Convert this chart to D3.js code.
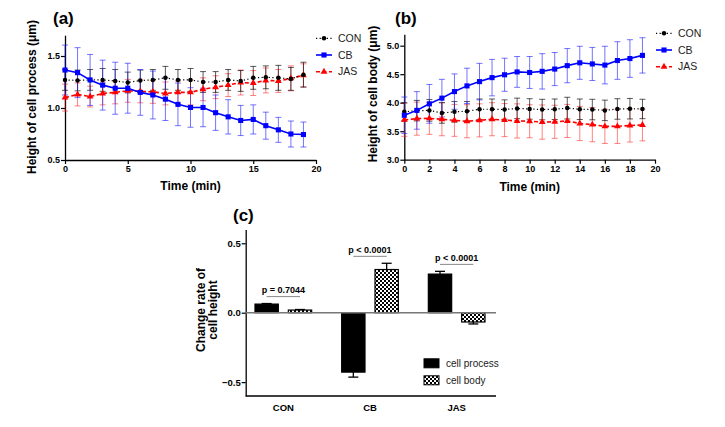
<!DOCTYPE html>
<html><head><meta charset="utf-8">
<script src="https://cdn.jsdelivr.net/npm/d3@7"></script>
<style>
body{margin:0;background:#fff;}
text{font-family:"Liberation Sans",Arial,sans-serif;}
</style></head>
<body><svg id="chart" width="725" height="427"></svg>
<script>
// ---------- DATA ----------
const time = [0,1,2,3,4,5,6,7,8,9,10,11,12,13,14,15,16,17,18,19];
const seriesNames = ["CON","CB","JAS"];

// (a) Height of cell process (µm)
const aCON    = [1.27,1.265,1.27,1.27,1.26,1.245,1.265,1.27,1.29,1.27,1.27,1.25,1.25,1.27,1.26,1.29,1.295,1.29,1.28,1.32];
const aCONerr = [0.10,0.10,0.10,0.11,0.11,0.10,0.10,0.10,0.11,0.10,0.11,0.10,0.10,0.10,0.10,0.11,0.11,0.12,0.11,0.12];
const aCB     = [1.365,1.34,1.27,1.22,1.19,1.19,1.15,1.125,1.085,1.035,1.005,1.005,0.955,0.915,0.88,0.89,0.83,0.79,0.75,0.745];
const aCBerr  = [0.24,0.24,0.245,0.24,0.25,0.24,0.22,0.23,0.205,0.205,0.19,0.185,0.17,0.165,0.145,0.14,0.13,0.12,0.125,0.12];
const aJAS    = [1.10,1.13,1.11,1.14,1.15,1.165,1.16,1.155,1.14,1.15,1.15,1.18,1.20,1.22,1.245,1.24,1.265,1.26,1.285,1.315];
const aJASerr = [0.13,0.11,0.10,0.11,0.11,0.11,0.11,0.11,0.11,0.11,0.12,0.11,0.11,0.11,0.12,0.12,0.12,0.11,0.12,0.11];

// (b) Height of cell body (µm)
const bCON    = [3.84,3.86,3.865,3.82,3.84,3.85,3.885,3.885,3.88,3.90,3.89,3.88,3.885,3.905,3.885,3.88,3.865,3.89,3.895,3.89];
const bCONerr = [0.16,0.18,0.19,0.18,0.18,0.17,0.18,0.18,0.17,0.18,0.18,0.18,0.18,0.19,0.18,0.18,0.18,0.18,0.18,0.17];
const bCB     = [3.78,3.865,3.98,4.08,4.195,4.295,4.37,4.44,4.49,4.54,4.53,4.55,4.59,4.65,4.70,4.68,4.66,4.74,4.775,4.83];
const bCBerr  = [0.32,0.33,0.34,0.33,0.31,0.31,0.32,0.32,0.29,0.27,0.28,0.31,0.29,0.30,0.29,0.29,0.33,0.33,0.33,0.31];
const bJAS    = [3.70,3.72,3.725,3.71,3.69,3.675,3.69,3.71,3.695,3.68,3.675,3.66,3.665,3.68,3.635,3.615,3.585,3.585,3.60,3.61];
const bJASerr = [0.29,0.29,0.28,0.29,0.28,0.29,0.29,0.29,0.29,0.30,0.29,0.30,0.29,0.29,0.30,0.30,0.30,0.30,0.29,0.28];

// (c) Change rate of cell height
const groups = ["CON","CB","JAS"];
const barSeries = ["cell process","cell body"];
const cellProcess    = [0.062,-0.428,0.278];
const cellProcessErr = [0.004,0.036,0.020];
const cellBody       = [0.019,0.311,-0.067];
const cellBodyErr    = [0.004,0.045,0.014];
const pLabels = ["p = 0.7044","p < 0.0001","p < 0.0001"];

const aTicksY = [0.5,1.0,1.5];
const aTicksX = [0,5,10,15,20];
const bTicksY = [3.0,3.5,4.0,4.5,5.0];
const bTicksX = [0,2,4,6,8,10,12,14,16,18,20];
const cTicksY = [-0.5,0.0,0.5];

// ---------- STYLES ----------
const styles = {
  CON:{color:"#000000", err:"rgba(0,0,0,0.65)", dash:"1.2,2.4", width:1.2, marker:"circle"},
  CB: {color:"#0000ff", err:"rgba(30,30,255,0.62)", dash:null, width:1.6, marker:"square"},
  JAS:{color:"#ff0000", err:"rgba(255,30,30,0.55)", dash:"4,2.5", width:1.6, marker:"triangle"}
};
const svg = d3.select("#chart");
const font = '"Liberation Sans",Arial,sans-serif';

// pattern for checkered bars
const defs = svg.append("defs");
const pat = defs.append("pattern").attr("id","checker").attr("patternUnits","userSpaceOnUse")
  .attr("width",4).attr("height",4);
pat.append("rect").attr("width",4).attr("height",4).attr("fill","#fff");
pat.append("rect").attr("width",2).attr("height",2).attr("fill","#000");
pat.append("rect").attr("x",2).attr("y",2).attr("width",2).attr("height",2).attr("fill","#000");

function markerPath(type){
  if(type==="circle") return d3.symbol().type(d3.symbolCircle).size(16)();
  if(type==="square") return d3.symbol().type(d3.symbolSquare).size(26)();
  return d3.symbol().type(d3.symbolTriangle).size(20)();
}

function linePanel(opt){
  const g = svg.append("g");
  const x = d3.scaleLinear().domain([0,20]).range(opt.xr);
  const y = d3.scaleLinear().domain(opt.yd).range(opt.yr);
  const ay = g.append("g").attr("transform",`translate(${opt.xr[0]},0)`)
    .call(d3.axisLeft(y).tickValues(opt.ticksY).tickFormat(d3.format(".1f")).tickSize(4).tickSizeOuter(0));
  const ax = g.append("g").attr("transform",`translate(0,${opt.yr[0]})`)
    .call(d3.axisBottom(x).tickValues(opt.ticksX).tickFormat(d3.format("d")).tickSize(4).tickSizeOuter(0));
  [ax,ay].forEach(a=>{
    a.selectAll("path.domain").attr("stroke","#000").attr("stroke-width",1.3);
    a.selectAll(".tick line").attr("stroke","#000").attr("stroke-width",1.2);
    a.selectAll("text").attr("font-family",font).attr("font-size",9).attr("font-weight","bold").attr("fill","#000");
  });
  ay.selectAll("text").attr("x",-5);
  ax.selectAll("text").attr("y",6);
  const order = ["JAS","CON","CB"];
  order.forEach(s=>{
    const vals = opt.data[s], errs = opt.err[s], st = styles[s];
    const eg = g.append("g").attr("stroke",st.err).attr("stroke-width",1).attr("fill","none");
    time.forEach((t,i)=>{
      const cx = x(t);
      eg.append("line").attr("x1",cx).attr("x2",cx).attr("y1",y(vals[i]-errs[i])).attr("y2",y(vals[i]+errs[i]));
      eg.append("line").attr("x1",cx-3).attr("x2",cx+3).attr("y1",y(vals[i]+errs[i])).attr("y2",y(vals[i]+errs[i]));
      eg.append("line").attr("x1",cx-3).attr("x2",cx+3).attr("y1",y(vals[i]-errs[i])).attr("y2",y(vals[i]-errs[i]));
    });
  });
  order.forEach(s=>{
    const vals = opt.data[s], st = styles[s];
    const line = d3.line().x((d,i)=>x(time[i])).y(d=>y(d));
    g.append("path").datum(vals).attr("d",line).attr("fill","none")
      .attr("stroke",st.color).attr("stroke-width",st.width)
      .attr("stroke-dasharray",st.dash);
    g.selectAll(null).data(vals).enter().append("path")
      .attr("d",markerPath(st.marker))
      .attr("transform",(d,i)=>`translate(${x(time[i])},${y(d)})`)
      .attr("fill",st.color);
  });
  seriesNames.forEach((s,i)=>{
    const st = styles[s];
    const ly = opt.legY[i];
    g.append("line").attr("x1",opt.legX).attr("x2",opt.legX+16).attr("y1",ly).attr("y2",ly)
      .attr("stroke",st.color).attr("stroke-width",st.width).attr("stroke-dasharray",st.dash);
    g.append("path").attr("d",markerPath(st.marker)).attr("transform",`translate(${opt.legX+8},${ly})`).attr("fill",st.color);
    g.append("text").attr("x",opt.legX+22).attr("y",ly+3.6).text(s)
      .attr("font-size",10.5).attr("fill","#222");
  });
  g.append("text").attr("x",(opt.xr[0]+opt.xr[1])/2).attr("y",opt.xtY).attr("text-anchor","middle")
    .attr("font-size",12).attr("font-weight","bold").text("Time (min)");
  g.append("text").attr("transform",`translate(${opt.ytX},${opt.ytY}) rotate(-90)`).attr("text-anchor","middle")
    .attr("font-size",12).attr("font-weight","bold").text(opt.yTitle);
  g.append("text").attr("x",opt.lab[0]).attr("y",opt.lab[1]).attr("font-size",17).attr("font-weight","bold").text(opt.label);
}

linePanel({
  xr:[65,316], yd:[0.5,1.7], yr:[160,35.2], ticksY:aTicksY, ticksX:aTicksX,
  data:{CON:aCON,CB:aCB,JAS:aJAS}, err:{CON:aCONerr,CB:aCBerr,JAS:aJASerr},
  legX:316, legY:[38.3,55,71.7], xtY:189.5, ytX:36, ytY:97,
  yTitle:"Height of cell process (μm)", label:"(a)", lab:[53,24]
});
linePanel({
  xr:[404.3,655], yd:[3.0,5.2], yr:[159.7,34.3], ticksY:bTicksY, ticksX:bTicksX,
  data:{CON:bCON,CB:bCB,JAS:bJAS}, err:{CON:bCONerr,CB:bCBerr,JAS:bJASerr},
  legX:656, legY:[33.3,50,66.7], xtY:191, ytX:377, ytY:94,
  yTitle:"Height of cell body (μm)", label:"(b)", lab:[395,24]
});

// ---------- PANEL (c) ----------
(function(){
  const g = svg.append("g");
  const left = 245.7, right = 496;
  const y = d3.scaleLinear().domain([-0.6,0.6]).range([396,229.4]);
  const x0 = d3.scaleBand().domain(groups).range([240,500]).paddingInner(0).paddingOuter(0);
  const x1 = d3.scaleBand().domain(barSeries).range([15,x0.bandwidth()-15]).paddingInner(0.3);
  const ay = g.append("g").attr("transform",`translate(${left},0)`)
    .call(d3.axisLeft(y).tickValues(cTicksY).tickFormat(d3.format(".1f")).tickSize(4).tickSizeOuter(0));
  ay.selectAll("path.domain").attr("stroke","#000").attr("stroke-width",1.3);
  ay.selectAll(".tick line").attr("stroke","#000").attr("stroke-width",1.2);
  ay.selectAll("text").attr("font-family",font).attr("font-size",9.5).attr("font-weight","bold").attr("fill","#000").attr("x",-5);
  g.append("line").attr("x1",left).attr("x2",right).attr("y1",y(-0.6)).attr("y2",y(-0.6)).attr("stroke","#000").attr("stroke-width",1.3);
  const ax = g.append("g").attr("transform",`translate(0,${y(-0.6)})`)
    .call(d3.axisBottom(x0).tickSize(0));
  ax.select("path.domain").remove();
  ax.selectAll("text").attr("font-family",font).attr("font-size",9.5).attr("font-weight","bold").attr("fill","#000").attr("y",8);

  const rows = groups.map((gname,i)=>({g:gname,
    vals:[{s:"cell process",v:cellProcess[i],e:cellProcessErr[i]},{s:"cell body",v:cellBody[i],e:cellBodyErr[i]}]}));
  rows.forEach(r=>{
    r.vals.forEach(d=>{
      const bx = x0(r.g)+x1(d.s), bw = x1.bandwidth(), cx = bx+bw/2;
      const tipV = d.v>=0 ? d.v+d.e : d.v-d.e;
      g.append("line").attr("x1",cx).attr("x2",cx).attr("y1",y(d.v)).attr("y2",y(tipV)).attr("stroke","#000").attr("stroke-width",1.3);
      g.append("line").attr("x1",cx-5).attr("x2",cx+5).attr("y1",y(tipV)).attr("y2",y(tipV)).attr("stroke","#000").attr("stroke-width",1.3);
      g.append("rect").attr("x",bx).attr("width",bw)
        .attr("y",y(Math.max(0,d.v))).attr("height",Math.abs(y(d.v)-y(0)))
        .attr("fill",d.s==="cell process"?"#000":"url(#checker)")
        .attr("stroke","#000").attr("stroke-width",1.2);
    });
  });
  g.append("line").attr("x1",left).attr("x2",right).attr("y1",y(0)).attr("y2",y(0)).attr("stroke","#777").attr("stroke-width",1.5);
  rows.forEach((r,i)=>{
    const level = d3.max(r.vals,d=>d.v+d.e)+0.05;
    const xa = x0(r.g)+x1("cell process")+x1.bandwidth()/2;
    const xb = x0(r.g)+x1("cell body")+x1.bandwidth()/2;
    g.append("line").attr("x1",xa).attr("x2",xb).attr("y1",y(level)).attr("y2",y(level)).attr("stroke","#888").attr("stroke-width",1);
    g.append("text").attr("x",(xa+xb)/2).attr("y",y(level)-3.5).attr("text-anchor","middle")
      .attr("font-size",9).attr("font-weight","bold").text(pLabels[i]);
  });
  const legX = 424, legY = [363.3,380.3];
  barSeries.forEach((s,i)=>{
    g.append("rect").attr("x",legX).attr("y",legY[i]-4.5).attr("width",15).attr("height",9)
      .attr("fill",i===0?"#000":"url(#checker)").attr("stroke","#000").attr("stroke-width",1);
    g.append("text").attr("x",legX+22).attr("y",legY[i]+3.5).attr("font-size",10).attr("fill","#222").text(s);
  });
  g.append("text").attr("transform","translate(205,310) rotate(-90)").attr("text-anchor","middle")
    .attr("font-size",12).attr("font-weight","bold").text("Change rate of");
  g.append("text").attr("transform","translate(217,310) rotate(-90)").attr("text-anchor","middle")
    .attr("font-size",12).attr("font-weight","bold").text("cell height");
  g.append("text").attr("x",233).attr("y",221).attr("font-size",17).attr("font-weight","bold").text("(c)");
})();
</script></body></html>
